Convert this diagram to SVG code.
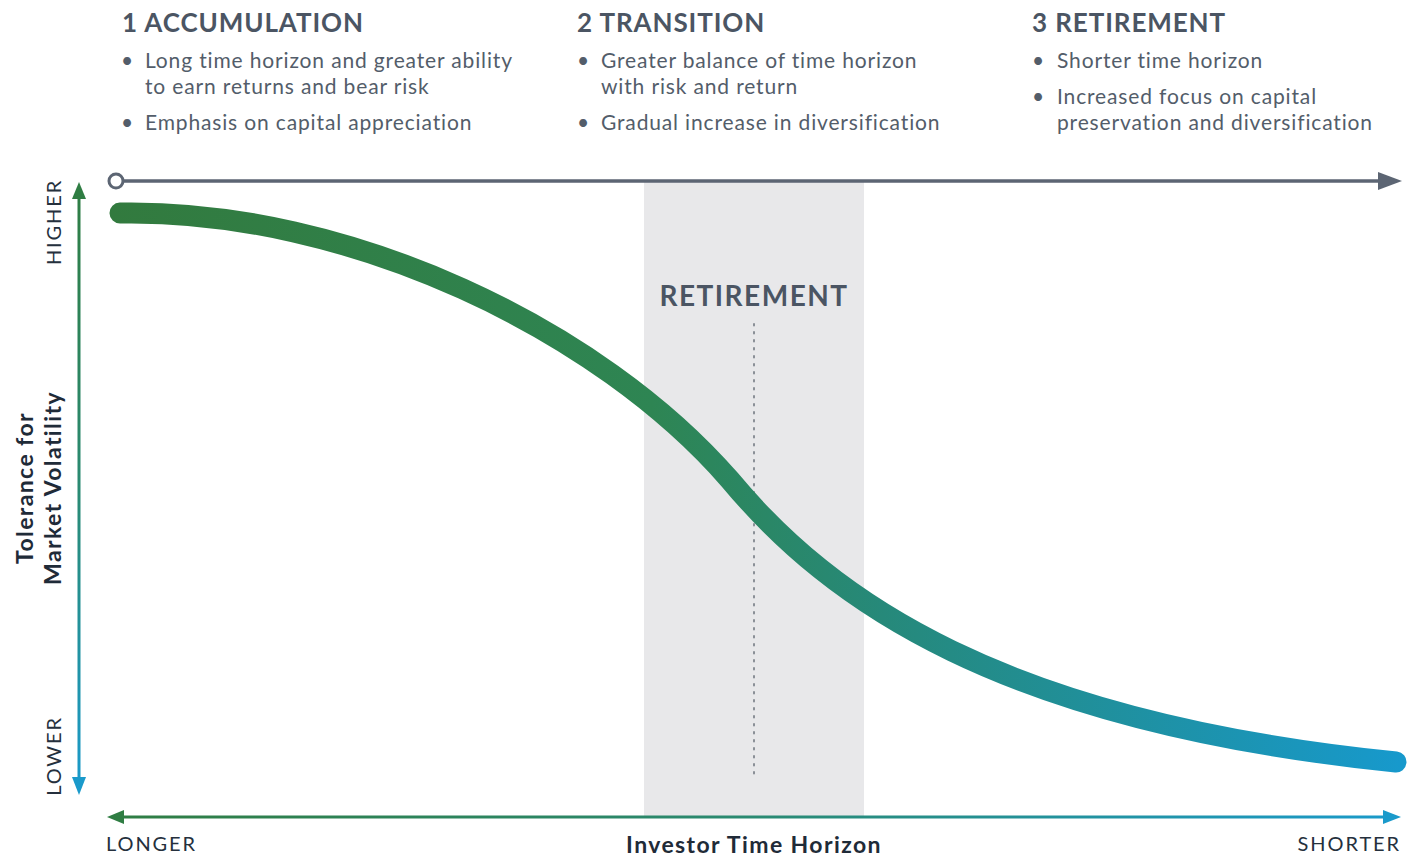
<svg xmlns="http://www.w3.org/2000/svg" width="1416" height="857" viewBox="0 0 1416 857">
<defs>
<linearGradient id="curveGrad" gradientUnits="userSpaceOnUse" x1="110" y1="0" x2="1400" y2="0">
<stop offset="0" stop-color="#327a3e"/>
<stop offset="0.42" stop-color="#2e8553"/>
<stop offset="0.6" stop-color="#26897a"/>
<stop offset="1" stop-color="#1799cc"/>
</linearGradient>
<linearGradient id="vGrad" gradientUnits="userSpaceOnUse" x1="0" y1="185" x2="0" y2="790">
<stop offset="0" stop-color="#2f7d43"/>
<stop offset="0.5" stop-color="#2a8a72"/>
<stop offset="1" stop-color="#1a9acb"/>
</linearGradient>
<linearGradient id="hGrad" gradientUnits="userSpaceOnUse" x1="110" y1="0" x2="1400" y2="0">
<stop offset="0" stop-color="#2f7d43"/>
<stop offset="0.5" stop-color="#2a8a72"/>
<stop offset="1" stop-color="#1a9acb"/>
</linearGradient>
</defs>
<style>
.head{font-family:Lato,"Liberation Sans",sans-serif;font-weight:700;font-size:26px;letter-spacing:0.9px;fill:#4b5563}
.body{font-family:Lato,"Liberation Sans",sans-serif;font-size:21px;letter-spacing:0.85px;fill:#535d6a}
.axis{font-family:Lato,"Liberation Sans",sans-serif;font-size:20px;letter-spacing:1.9px;fill:#25303d}
.axisb{font-family:Lato,"Liberation Sans",sans-serif;font-weight:700;font-size:23px;letter-spacing:1.4px;fill:#1f2b38}
.ret{font-family:Lato,"Liberation Sans",sans-serif;font-weight:700;font-size:28px;letter-spacing:1.5px;fill:#4b5563}
</style>

<g id="retirement-band">
<rect x="644" y="182" width="220" height="635" fill="#e8e8ea"/>
<text class="ret" x="754" y="306" text-anchor="middle">RETIREMENT</text>
<line x1="754" y1="324" x2="754" y2="776" stroke="#8a8f96" stroke-width="2" stroke-dasharray="1.5 6.5" stroke-linecap="round"/>
</g>

<g id="headings">
<g id="col1">
<text class="head" x="122" y="32">1 ACCUMULATION</text>
<text class="body" x="121" y="68">•</text>
<text class="body" x="145" y="68">Long time horizon and greater ability</text>
<text class="body" x="145" y="94">to earn returns and bear risk</text>
<text class="body" x="121" y="130">•</text>
<text class="body" x="145" y="130">Emphasis on capital appreciation</text>
</g>
<g id="col2">
<text class="head" x="577" y="32">2 TRANSITION</text>
<text class="body" x="577" y="68">•</text>
<text class="body" x="601" y="68">Greater balance of time horizon</text>
<text class="body" x="601" y="94">with risk and return</text>
<text class="body" x="577" y="130">•</text>
<text class="body" x="601" y="130">Gradual increase in diversification</text>
</g>
<g id="col3">
<text class="head" x="1032" y="32">3 RETIREMENT</text>
<text class="body" x="1032" y="68">•</text>
<text class="body" x="1057" y="68">Shorter time horizon</text>
<text class="body" x="1032" y="104">•</text>
<text class="body" x="1057" y="104">Increased focus on capital</text>
<text class="body" x="1057" y="130">preservation and diversification</text>
</g>
</g>

<g id="connectors">
<g id="time-axis">
<line x1="123" y1="181" x2="1382" y2="181" stroke="#5c6573" stroke-width="3.5"/>
<polygon points="1378,172 1402,181 1378,190" fill="#5c6573"/>
<circle cx="116" cy="181" r="7" fill="#fff" stroke="#5c6573" stroke-width="3"/>
</g>
<g id="tolerance-curve">
<path d="M120,213 C350,209 600,330 730,480 C830,600 1000,722 1396,762" fill="none" stroke="url(#curveGrad)" stroke-width="21" stroke-linecap="round"/>
</g>
<g id="vertical-axis">
<line x1="79" y1="196" x2="79" y2="780" stroke="url(#vGrad)" stroke-width="3"/>
<polygon points="72,199 79,182 86,199" fill="#2f7d43"/>
<polygon points="72,777 79,795 86,777" fill="#1a9acb"/>
</g>
<g id="horizontal-axis">
<line x1="121" y1="817" x2="1386" y2="817" stroke="url(#hGrad)" stroke-width="3"/>
<polygon points="124,810 107,817 124,824" fill="#2f7d43"/>
<polygon points="1383,810 1401,817 1383,824" fill="#1a9acb"/>
</g>
</g>

<g id="labels">
<text class="axis" transform="translate(61,222) rotate(-90)" text-anchor="middle">HIGHER</text>
<text class="axis" transform="translate(61,756) rotate(-90)" text-anchor="middle">LOWER</text>
<text class="axisb" transform="translate(33,488) rotate(-90)" text-anchor="middle">Tolerance for</text>
<text class="axisb" transform="translate(61,488) rotate(-90)" text-anchor="middle">Market Volatility</text>
<text class="axis" x="106" y="851">LONGER</text>
<text class="axis" x="1401" y="851" text-anchor="end">SHORTER</text>
<text class="axisb" x="754" y="853" text-anchor="middle">Investor Time Horizon</text>
</g>
</svg>
